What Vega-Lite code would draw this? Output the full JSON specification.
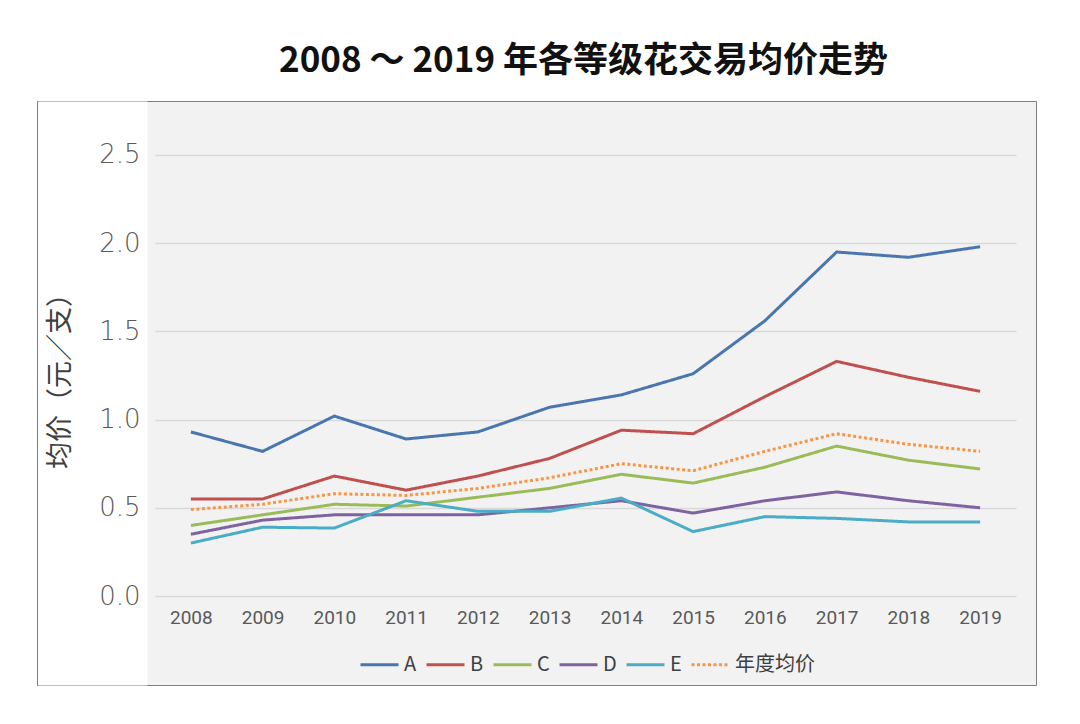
{
  "$schema": "https://vega.github.io/schema/vega-lite/v6.json",
  "width": 999,
  "height": 584,
  "autosize": {"type": "none"},
  "padding": {"left": 37, "top": 101, "right": 44, "bottom": 39},
  "background": "white",
  "title": {
    "text": "2008 ～ 2019 年各等级花交易均价走势",
    "font": "Noto Sans CJK SC",
    "fontSize": 35,
    "fontWeight": "bold",
    "color": "#111111",
    "anchor": "middle",
    "dx": 47,
    "offset": 22
  },
  "data": {
    "values": [
      {"year": "2008", "A": 0.93, "B": 0.55, "C": 0.40, "D": 0.35, "E": 0.30, "年度均价": 0.49},
      {"year": "2009", "A": 0.82, "B": 0.55, "C": 0.46, "D": 0.43, "E": 0.39, "年度均价": 0.52},
      {"year": "2010", "A": 1.02, "B": 0.68, "C": 0.52, "D": 0.46, "E": 0.385, "年度均价": 0.58},
      {"year": "2011", "A": 0.89, "B": 0.60, "C": 0.51, "D": 0.46, "E": 0.54, "年度均价": 0.57},
      {"year": "2012", "A": 0.93, "B": 0.68, "C": 0.56, "D": 0.46, "E": 0.48, "年度均价": 0.61},
      {"year": "2013", "A": 1.07, "B": 0.78, "C": 0.61, "D": 0.50, "E": 0.48, "年度均价": 0.67},
      {"year": "2014", "A": 1.14, "B": 0.94, "C": 0.69, "D": 0.54, "E": 0.555, "年度均价": 0.75},
      {"year": "2015", "A": 1.26, "B": 0.92, "C": 0.64, "D": 0.47, "E": 0.365, "年度均价": 0.71},
      {"year": "2016", "A": 1.56, "B": 1.13, "C": 0.73, "D": 0.54, "E": 0.45, "年度均价": 0.82},
      {"year": "2017", "A": 1.95, "B": 1.33, "C": 0.85, "D": 0.59, "E": 0.44, "年度均价": 0.92},
      {"year": "2018", "A": 1.92, "B": 1.24, "C": 0.77, "D": 0.54, "E": 0.42, "年度均价": 0.86},
      {"year": "2019", "A": 1.98, "B": 1.16, "C": 0.72, "D": 0.50, "E": 0.42, "年度均价": 0.82}
    ]
  },
  "transform": [
    {"fold": ["A", "B", "C", "D", "E", "年度均价"], "as": ["series", "value"]}
  ],
  "encoding": {
    "x": {
      "field": "year",
      "type": "ordinal",
      "scale": {"type": "point", "range": [118, 979], "padding": 0.5},
      "axis": {
        "title": null,
        "labelAngle": 0,
        "domain": false,
        "ticks": false,
        "tickSize": 0,
        "grid": false,
        "offset": -68,
        "labelPadding": 0,
        "labelBaseline": "middle",
        "labelFont": "Roboto",
        "labelFontSize": 19,
        "labelColor": "#595959"
      }
    },
    "color": {
      "field": "series",
      "type": "nominal",
      "scale": {
        "domain": ["A", "B", "C", "D", "E", "年度均价"],
        "range": ["#4a76b0", "#c0504d", "#9bbb59", "#7f62a0", "#4bacc6", "#f79646"]
      },
      "legend": {"title": null}
    },
    "strokeDash": {
      "field": "series",
      "type": "nominal",
      "scale": {
        "domain": ["A", "B", "C", "D", "E", "年度均价"],
        "range": [[1, 0], [1, 0], [1, 0], [1, 0], [1, 0], [3, 2.5]]
      },
      "legend": {"title": null}
    }
  },
  "layer": [
    {
      "transform": [{"filter": "datum.series !== '年度均价'"}],
      "mark": {"type": "line", "strokeWidth": 3},
      "encoding": {
        "y": {
          "field": "value",
          "type": "quantitative",
          "scale": {"domain": [-0.5045, 2.806], "nice": false, "zero": false},
          "axis": {
            "orient": "left",
            "title": "均价（元／支）",
            "values": [0, 0.5, 1, 1.5, 2, 2.5],
            "labels": false,
            "grid": true,
            "gridColor": "#d9d9d9",
            "gridWidth": 1.5,
            "ticks": false,
            "tickSize": 0,
            "domain": true,
            "domainColor": "#ffffff",
            "domainWidth": 109,
            "offset": -55.5,
            "titleFont": "Noto Sans CJK SC",
            "titleFontSize": 27,
            "titleFontWeight": "normal",
            "titleColor": "#404040",
            "titleX": -32,
            "titleY": 273,
            "titleBaseline": "middle",
            "titleAngle": 270,
            "zindex": 0
          }
        }
      }
    },
    {
      "transform": [{"filter": "datum.series === '年度均价'"}],
      "mark": {"type": "line", "strokeWidth": 3},
      "encoding": {
        "y": {
          "field": "value",
          "type": "quantitative",
          "scale": {"domain": [-0.5045, 2.806], "nice": false, "zero": false},
          "axis": {
            "orient": "left",
            "title": null,
            "values": [0, 0.5, 1, 1.5, 2, 2.5],
            "format": ".1f",
            "grid": false,
            "domain": false,
            "ticks": false,
            "tickSize": 0,
            "offset": -103,
            "labelPadding": 0,
            "labelFont": "DejaVu Sans",
            "labelFontWeight": 200,
            "labelFontSize": 26,
            "labelColor": "#595959",
            "zindex": 1
          }
        }
      }
    }
  ],
  "resolve": {"axis": {"y": "independent"}},
  "config": {
    "view": {"fill": "#f2f2f2", "stroke": "#7f7f7f", "strokeWidth": 1},
    "legend": {
      "orient": "none",
      "legendX": 322,
      "legendY": 543,
      "direction": "horizontal",
      "symbolType": "stroke",
      "symbolSize": 1444,
      "symbolStrokeWidth": 3,
      "labelFont": "Noto Sans CJK SC",
      "labelFontSize": 20,
      "labelColor": "#404040",
      "labelOffset": 4,
      "columnPadding": 3
    }
  }
}
